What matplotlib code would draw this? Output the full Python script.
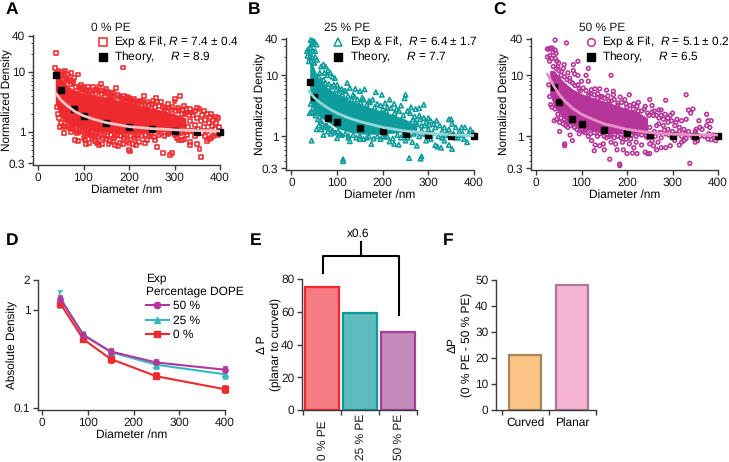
import matplotlib
matplotlib.use('Agg')
import matplotlib.pyplot as plt
from matplotlib.lines import Line2D
from matplotlib.ticker import FixedLocator, NullFormatter, NullLocator

plt.rcParams['font.family'] = ['Liberation Sans', 'DejaVu Sans']
plt.rcParams['font.size'] = 8.6
plt.rcParams['text.hinting'] = 'no_hinting'
plt.rcParams['mathtext.fontset'] = 'custom'
plt.rcParams['mathtext.it'] = 'Liberation Sans:italic'
plt.rcParams['mathtext.rm'] = 'Liberation Sans'
plt.rcParams['axes.linewidth'] = 1.0
plt.rcParams['axes.edgecolor'] = '#3a3a3a'

W, H = 729, 462

# ---- data ----
theory_x = [40, 50, 80, 100, 150, 200, 250, 300, 350, 400]
theory_a = [8.9, 5.0, 2.4, 1.85, 1.4, 1.2, 1.1, 1.05, 1.0, 1.0]
theory_b = [7.7, 4.4, 2.0, 1.7, 1.35, 1.2, 1.1, 1.04, 1.03, 1.0]
theory_c = [6.5, 3.7, 1.9, 1.6, 1.25, 1.15, 1.05, 1.02, 1.02, 1.0]

fit_a_x = [40, 50, 60, 80, 100, 125, 150, 200, 250, 300, 350, 400]
fit_a_y = [4.3, 3.4, 2.9, 2.2, 1.85, 1.6, 1.42, 1.22, 1.13, 1.08, 1.05, 1.03]
fit_b_x = [38, 50, 60, 80, 100, 125, 150, 200, 250, 300, 350, 400]
fit_b_y = [5.5, 4.3, 3.7, 2.9, 2.4, 2.0, 1.75, 1.4, 1.22, 1.12, 1.06, 1.03]
fit_c_x = [25, 30, 40, 50, 60, 80, 100, 125, 150, 200, 250, 300, 350, 400]
fit_c_y = [10.5, 9, 6.5, 5, 4, 2.9, 2.3, 1.9, 1.6, 1.3, 1.15, 1.08, 1.06, 1.05]

# the scatter is too dense to read one by one in the middle, so the solid
# core of each cloud is an envelope and the points around it are read singly
core_a_x = [38, 45, 55, 70, 90, 110, 130, 150, 180, 210, 240, 270, 300, 325]
core_a_hi = [9, 8.5, 7, 5.5, 4.6, 4.2, 4.0, 3.8, 3.3, 3.0, 2.6, 2.3, 2.0, 1.7]
core_a_lo = [3, 2.2, 1.5, 1.3, 1.15, 1.05, 1.0, 0.98, 0.95, 0.95, 0.98, 1.0, 1.05, 1.15]
core_b_x = [40, 45, 50, 60, 80, 100, 130, 160, 190, 220, 250, 275]
core_b_hi = [18, 16, 13, 8.5, 6.2, 5.0, 3.9, 3.2, 2.7, 2.3, 1.9, 1.5]
core_b_lo = [4, 3.2, 2.6, 2.1, 1.7, 1.35, 1.15, 1.08, 1.08, 1.12, 1.2, 1.3]
core_c_x = [30, 40, 60, 80, 100, 130, 160, 190, 220, 245]
core_c_hi = [12, 12, 8, 6, 5, 4.2, 3.6, 3.0, 2.6, 2.0]
core_c_lo = [5, 3, 2, 1.6, 1.35, 1.2, 1.1, 1.1, 1.1, 1.2]

points_a = [
    (39, 20.8), (37, 11.6), (187, 11.8), (45, 10.5), (50, 9), (55, 10), (60, 10.5), (65, 9), (72, 9.5), (80, 8),
    (88, 9), (95, 6), (100, 5.5), (105, 4.8), (110, 5.5), (120, 5.5), (130, 5), (135, 5.5), (138, 6.2), (145, 4.8),
    (150, 5.2), (155, 4), (165, 4.5), (172, 5.3), (180, 3.8), (190, 3.5), (195, 3.8), (205, 3.4), (215, 3.2), (233, 3.9),
    (260, 3.6), (262, 3.2), (270, 3.1), (285, 2.9), (300, 3.2), (302, 3.5), (312, 3.9), (320, 2.7), (335, 2.4), (350, 2.5),
    (355, 2.4), (365, 2.2), (372, 2.0), (380, 2.0), (392, 1.75), (398, 1.2), (48, 1.2), (58, 0.94), (72, 1.0), (75, 1.1),
    (85, 0.95), (82, 0.72), (87, 0.7), (100, 0.8), (103, 0.72), (105, 0.63), (112, 0.65), (118, 0.8), (125, 0.7), (130, 0.66),
    (135, 0.6), (140, 0.62), (150, 0.75), (155, 0.62), (158, 0.7), (165, 0.68), (170, 0.6), (175, 0.58), (180, 0.65), (187, 0.62),
    (195, 0.7), (200, 0.5), (203, 0.47), (199, 0.66), (208, 0.62), (215, 0.6), (222, 0.68), (235, 0.65), (240, 0.72), (258, 0.73),
    (262, 0.55), (274, 0.44), (290, 0.41), (295, 0.44), (305, 0.8), (310, 0.74), (317, 0.74), (322, 0.75), (335, 0.6), (335, 0.68),
    (350, 0.63), (355, 0.52), (358, 0.38), (372, 0.7), (375, 0.75), (380, 0.8), (385, 0.85), (390, 0.95), (395, 0.9), (92, 1.1),
    (110, 0.95), (125, 0.9), (145, 0.88), (170, 0.85), (190, 0.88), (215, 0.85), (245, 0.85), (265, 0.9), (285, 0.92), (300, 0.9),
    (330, 1.2), (335, 1.5), (340, 1.9), (345, 1.3), (350, 1.7), (352, 1.1), (358, 1.5), (360, 1.9), (365, 1.2), (368, 1.6),
    (372, 1.05), (375, 1.4), (378, 1.75), (382, 1.25), (385, 1.6), (388, 1.1), (392, 1.4), (395, 1.7), (340, 1.05), (328, 2.1),
    (345, 2.2), (318, 2.3), (308, 2.5), (295, 2.6), (280, 2.5), (250, 2.9), (240, 3.1), (225, 3.3), (200, 3.6), (160, 4.4),
    (125, 4.9), (90, 5.6), (75, 7), (62, 8), (290, 1.0), (315, 0.95), (325, 1.0), (360, 0.95), (345, 0.85), (368, 0.85),
    (42, 9.5), (47, 8), (52, 8.7), (57, 7.6), (63, 7), (68, 7.4), (73, 6.2), (78, 6.6), (84, 5.6), (92, 5),
    (97, 5.2), (103, 4.4), (108, 5), (114, 4.6), (118, 4.3), (127, 4.4), (133, 4.7), (141, 4.3), (148, 4.4), (153, 4.6),
    (158, 3.9), (163, 4), (168, 3.8), (175, 4.1), (184, 3.5), (188, 3.9), (193, 3.3), (199, 3.2), (208, 3.3), (212, 3.5),
    (220, 3), (228, 3.1), (236, 2.9), (244, 2.8), (252, 3.3), (258, 2.6), (266, 2.7), (274, 2.6), (278, 2.3), (288, 2.5),
    (293, 2.3), (304, 2.2), (310, 2.3), (316, 2), (322, 2), (326, 2.4), (332, 1.9), (338, 2.1), (41, 2.6), (44, 2),
    (47, 1.7), (50, 1.4), (54, 1.25), (60, 1.2), (65, 1.25), (70, 1.15), (78, 1.15), (84, 1.05), (90, 1), (96, 1.02),
    (103, 0.95), (108, 0.88), (115, 0.92), (121, 0.85), (128, 0.95), (133, 0.82), (138, 0.9), (143, 0.8), (152, 0.85), (160, 0.88),
    (168, 0.78), (174, 0.9), (183, 0.85), (189, 0.78), (194, 0.9), (205, 0.85), (212, 0.78), (220, 0.9), (228, 0.85), (236, 0.9),
    (248, 0.92), (255, 0.82), (270, 0.95), (278, 0.85), (288, 0.95), (296, 1), (308, 0.95), (318, 1.05), (328, 0.9), (334, 1.05),
]

points_b = [
    (42, 38), (46, 37), (50, 36), (44, 33), (48, 33), (55, 32), (42, 28), (37, 27), (34, 25), (40, 24),
    (46, 26), (52, 25), (35, 21), (40, 20), (45, 20), (52, 20), (38, 17), (44, 17), (50, 16), (56, 18),
    (65, 14), (70, 15), (75, 14), (80, 12), (85, 11), (90, 9.5), (95, 9), (62, 11), (72, 11), (78, 10),
    (100, 7), (110, 6), (122, 7.5), (128, 6.2), (140, 6), (150, 5.5), (160, 5.9), (178, 4), (185, 5.3), (198, 4.8),
    (205, 3.5), (215, 4), (225, 3.4), (250, 4.8), (248, 4.2), (240, 3.2), (262, 3), (272, 2.8), (280, 2.9), (290, 3.3),
    (300, 2), (290, 2), (280, 2.2), (260, 2.4), (270, 2.1), (305, 1.8), (318, 1.8), (325, 1.5), (335, 1.4), (345, 1.9),
    (350, 1.9), (352, 1.6), (360, 1.4), (368, 1.2), (373, 1.4), (380, 1.4), (392, 1.3), (398, 1.15), (40, 2.4), (45, 2.5),
    (50, 2.4), (55, 1.3), (60, 1.5), (68, 1.6), (70, 1.05), (65, 1.3), (75, 1.5), (80, 1.2), (86, 1.1), (44, 0.85),
    (100, 0.93), (107, 1.1), (113, 0.42), (113, 0.39), (125, 0.95), (128, 0.83), (150, 0.9), (165, 0.95), (175, 0.75), (195, 0.9),
    (205, 0.98), (215, 0.82), (225, 0.75), (235, 0.73), (258, 0.44), (250, 0.85), (265, 0.8), (275, 0.7), (285, 0.47), (283, 0.43),
    (295, 0.85), (305, 0.9), (315, 0.72), (320, 0.68), (328, 0.65), (335, 0.85), (345, 0.72), (352, 0.62), (360, 0.95), (378, 0.9),
    (385, 0.8), (290, 1.1), (310, 1.15), (322, 1.0), (338, 1.05), (355, 1.1), (365, 0.95), (375, 1.1), (280, 1.0), (268, 1.1),
    (255, 0.95), (240, 0.95), (300, 1.3), (315, 1.4), (330, 1.2), (345, 1.3), (260, 1.6), (275, 1.6), (285, 1.5), (295, 1.7),
    (230, 2.8), (210, 3), (195, 3.2), (170, 3.8), (155, 4.3), (135, 4.8), (115, 5.5), (105, 5.9),
    (55, 9), (60, 9.5), (65, 8), (70, 8.5), (75, 7.5), (82, 7.2), (88, 6.5), (93, 7), (98, 5.8), (104, 5),
    (112, 4.8), (118, 5.6), (124, 4.6), (132, 4), (138, 4.5), (145, 4), (152, 3.6), (158, 4), (165, 3.3), (172, 3.6),
    (182, 3), (188, 3.4), (200, 2.8), (208, 2.6), (218, 2.9), (226, 2.4), (236, 2.6), (245, 2.2), (254, 2.6), (266, 1.9),
    (272, 1.7), (282, 1.9), (292, 1.5), (302, 1.55), (312, 1.6), (42, 3.4), (47, 2.9), (53, 2.2), (58, 1.9), (64, 1.8),
    (72, 1.4), (78, 1.5), (85, 1.35), (90, 1.25), (96, 1.15), (102, 1.2), (110, 1.05), (118, 1.1), (125, 1.02), (135, 1.05),
    (142, 0.95), (150, 1.02), (158, 0.9), (170, 1), (180, 0.92), (188, 1), (200, 1), (210, 1), (222, 0.92), (232, 1.05),
    (245, 1.08), (258, 1.05), (272, 1.2), (285, 1.25), (298, 1.05), (305, 1.02), (330, 0.95), (340, 1.15), (370, 1.05), (388, 1.1),
]

points_c = [
    (42, 38), (67, 34), (25, 27), (28, 27), (32, 28), (36, 28), (42, 26), (38, 24), (44, 23), (25, 20),
    (30, 21), (35, 19), (42, 19), (30, 17), (46, 17), (50, 16), (48, 14), (62, 15), (82, 15), (92, 17),
    (115, 13), (82, 12), (60, 13), (70, 11), (85, 10.5), (92, 10), (110, 10), (165, 10), (100, 8), (115, 8),
    (55, 10), (75, 8), (130, 6), (140, 6), (155, 5.7), (170, 5.5), (170, 4.8), (185, 4.4), (195, 4), (205, 4.8),
    (145, 4.5), (225, 3.6), (240, 3.1), (250, 4), (285, 3.9), (330, 4.8), (335, 2.7), (345, 2.8), (340, 2.4), (300, 2.4),
    (270, 2.7), (275, 2.7), (255, 3.2), (215, 3.4), (260, 2.6), (295, 2.2), (310, 1.9), (320, 1.8), (330, 1.9), (375, 2.3),
    (378, 1.8), (385, 1.8), (358, 1.8), (375, 1.5), (382, 1.4), (365, 1.3), (350, 1.2), (340, 1.05), (352, 1.3), (390, 1.05),
    (395, 0.85), (385, 0.88), (378, 0.9), (355, 0.85), (350, 0.8), (345, 0.95), (338, 0.36), (330, 0.92), (325, 0.85), (320, 0.8),
    (315, 0.72), (305, 0.85), (300, 1.2), (290, 1.3), (280, 1.5), (270, 1.6), (285, 1.1), (275, 0.95), (268, 0.8), (258, 0.7),
    (250, 0.75), (245, 0.95), (240, 0.55), (232, 0.72), (220, 0.8), (255, 0.85), (295, 0.7), (285, 0.65), (275, 0.65), (265, 0.6),
    (250, 0.52), (245, 0.52), (222, 0.52), (212, 0.53), (200, 0.52), (192, 0.6), (184, 0.35), (184, 0.33), (178, 0.6), (162, 0.42),
    (150, 0.6), (140, 0.7), (128, 0.58), (130, 0.72), (148, 0.75), (165, 0.8), (175, 0.75), (190, 0.8), (205, 0.75), (215, 0.65),
    (122, 0.85), (115, 1.0), (108, 1.15), (95, 1.1), (80, 0.85), (75, 1.05), (63, 0.7), (63, 0.75), (52, 1.2), (70, 1.4),
    (40, 1.8), (45, 1.9), (52, 1.7), (60, 1.6), (65, 1.5), (72, 1.7), (85, 1.4), (100, 1.3), (32, 3.3), (30, 4.5),
    (28, 7), (35, 3), (95, 6), (120, 5), (135, 4.2), (160, 3.8), (180, 3.5), (200, 3), (225, 2.6), (245, 2.4),
    (258, 2.2), (270, 2), (280, 1.9), (265, 1.5), (250, 1.4), (260, 1.2), (240, 1.2), (225, 1.1), (210, 1.05), (195, 1.0),
    (180, 1.0), (165, 1.05), (150, 1.0), (135, 1.0), (290, 1.7), (305, 1.5), (315, 1.4), (325, 1.3), (335, 1.2), (310, 1.1),
    (320, 1.0), (300, 0.95), (360, 1.0), (370, 1.0), (380, 1.1), (360, 1.4),
    (38, 14), (44, 13), (50, 12), (56, 11.5), (62, 9.5), (68, 8.5), (74, 9), (80, 7.5), (86, 6.8), (92, 7),
    (98, 5.6), (104, 6.2), (110, 5.6), (116, 4.8), (122, 5.8), (128, 4.8), (136, 5), (142, 4.4), (150, 4.2), (158, 4.6),
    (165, 3.8), (172, 4), (180, 3.2), (188, 3.6), (198, 3.4), (206, 3.2), (214, 2.8), (222, 3.1), (232, 2.6), (238, 2.8),
    (248, 2.2), (255, 2.5), (265, 2.2), (275, 2.2), (284, 2.3), (290, 2), (298, 1.8), (308, 1.7), (42, 2.8), (48, 2.3),
    (55, 2), (62, 1.9), (68, 1.8), (76, 1.5), (82, 1.6), (90, 1.3), (96, 1.4), (104, 1.2), (112, 1.3), (120, 1.1),
    (128, 1.15), (140, 1.1), (146, 1.15), (155, 0.95), (162, 1), (172, 0.95), (186, 0.95), (198, 0.9), (208, 0.9), (220, 1),
    (232, 1.05), (242, 1), (252, 1.05), (262, 1), (272, 1.15), (282, 1.25), (292, 1.05), (302, 1.05), (315, 1.2), (328, 1.1),
]

d_x = [40, 90, 150, 250, 400]
d_50 = [1.28, 0.55, 0.375, 0.29, 0.245]
d_25 = [1.30, 0.56, 0.37, 0.275, 0.22]
d_0 = [1.15, 0.50, 0.315, 0.21, 0.155]
d_50_err = [0.10, 0.03, 0.02, 0.02, 0.015]
d_25_err = [0.25, 0.03, 0.02, 0.025, 0.025]
d_0_err = [0.07, 0.03, 0.03, 0.015, 0.014]

e_labels = ['0 % PE', '25 % PE', '50 % PE']
e_vals = [75, 59, 47.5]
f_labels = ['Curved', 'Planar']
f_vals = [21, 48]

RED, TEAL, MAG = '#ee2a2e', '#0f9c9c', '#b6359b'
CYAN = '#32bcc0'


def axes_px(fig, left, top, right, bottom):
    return fig.add_axes([left / W, 1 - bottom / H, (right - left) / W, (bottom - top) / H])


def clean(ax):
    ax.spines['top'].set_visible(False)
    ax.spines['right'].set_visible(False)
    ax.tick_params(length=3.5, width=1, pad=2, color='#3a3a3a', labelcolor='#1a1a1a')


def label_px(ax, x):
    # right edge of the rotated y label, in pixels
    pos = ax.get_position()
    ax.yaxis.set_label_coords((x - pos.x0 * W) / (pos.width * W), 0.5)


def scatter_panel(ax, pts, core, fit, theory, color, fitcolor, marker, size, ylab_x, title, rtxt, rtxt2, leg_xy):
    clean(ax)
    ax.set_yscale('log')
    ax.fill_between(core[0], core[2], core[1], color=color, lw=0, zorder=1)
    px, py = zip(*pts)
    ax.scatter(px, py, marker=marker, s=size, facecolors='none', edgecolors=color, linewidths=1.15, clip_on=False, zorder=2)
    ax.plot(theory[0], theory[1], 's', color='black', ms=4.8, clip_on=False, zorder=3)
    ax.plot(fit[0], fit[1], color=fitcolor, lw=2, zorder=4, solid_capstyle='round')
    ax.yaxis.set_major_locator(FixedLocator([0.3, 1, 10, 40]))
    ax.set_yticklabels(['0.3', '1', '10', '40'])
    ax.yaxis.set_minor_locator(FixedLocator([0.4, 0.5, 0.6, 0.7, 0.8, 0.9, 2, 3, 4, 5, 6, 7, 8, 9, 20, 30]))
    ax.yaxis.set_minor_formatter(NullFormatter())
    ax.tick_params(which='minor', length=1.8, width=0.7, color='#3a3a3a')
    ax.set_xticks([0, 100, 200, 300, 400])
    ax.set_xlabel('Diameter /nm', fontsize=8.6, labelpad=0.5)
    ax.set_ylabel('Normalized Density', fontsize=8.5)
    label_px(ax, ylab_x)
    handles = [
        Line2D([], [], marker=marker, ls='none', ms=5.5, mfc='none', mec=color, mew=1.1),
        Line2D([], [], marker='s', ls='none', ms=5.5, color='black'),
    ]
    leg = ax.legend(handles, [rtxt, rtxt2], frameon=False, loc='upper left', fontsize=8.6, handletextpad=0.2,
                    labelspacing=0.0, borderpad=0, borderaxespad=0, handlelength=1.6,
                    bbox_to_anchor=(leg_xy[0] / W, 1 - leg_xy[1] / H), bbox_transform=ax.figure.transFigure)
    leg.set_zorder(5)
    ax.figure.text(title[0] / W, 1 - title[1] / H, title[2], fontsize=8.6, va='center', color='#1a1a1a')


fig = plt.figure(figsize=(W / 100, H / 100), dpi=100)

# A
ax = axes_px(fig, 33, 35, 220, 165)
ax.set_xlim(-11, 400)
ax.set_ylim(0.28, 41)
scatter_panel(ax, points_a, (core_a_x, core_a_hi, core_a_lo), (fit_a_x, fit_a_y), (theory_x, theory_a), RED, '#f8c4c4', 's', 8,
              13, (91, 28, '0 % PE'), r'Exp & Fit, $R$ = 7.4 ± 0.4', r'Theory,     $R$ = 8.9', (93, 35))

# B
ax = axes_px(fig, 286, 38, 474, 170)
ax.set_xlim(-12, 400)
ax.set_ylim(0.28, 41)
scatter_panel(ax, points_b, (core_b_x, core_b_hi, core_b_lo), (fit_b_x, fit_b_y), (theory_x, theory_b), TEAL, '#93d8d8', '^', 10,
              266, (324, 28, '25 % PE'), r'Exp & Fit,  $R$ = 6.4 ± 1.7', r'Theory,     $R$ = 7.7', (328, 35))

# C
ax = axes_px(fig, 531, 38, 718, 170)
ax.set_xlim(-11, 400)
ax.set_ylim(0.28, 41)
scatter_panel(ax, points_c, (core_c_x, core_c_hi, core_c_lo), (fit_c_x, fit_c_y), (theory_x, theory_c), MAG, '#e88fc6', 'o', 7,
              510, (579, 28, '50 % PE'), r'Exp & Fit,  $R$ = 5.1 ± 0.2', r'Theory,     $R$ = 6.5', (581, 35))

# D
ax = axes_px(fig, 38, 280, 225, 410)
clean(ax)
ax.set_yscale('log')
ax.set_xlim(-9, 400)
ax.set_ylim(0.0954, 2)
for vals, errs, c, m in [(d_0, d_0_err, RED, 's'), (d_25, d_25_err, CYAN, '^'), (d_50, d_50_err, MAG, 'o')]:
    ax.errorbar(d_x, vals, yerr=errs, color=c, marker=m, ms=3.8, lw=1.5, elinewidth=1.2, capsize=1.8, capthick=1.2, clip_on=False)
ax.yaxis.set_major_locator(FixedLocator([0.1, 1, 2]))
ax.set_yticklabels(['0.1', '1', '2'])
ax.yaxis.set_minor_locator(NullLocator())
ax.set_xticks([0, 100, 200, 300, 400])
ax.set_xlabel('Diameter /nm', fontsize=8.6, labelpad=0.5)
ax.set_ylabel('Absolute Density', fontsize=8.5)
label_px(ax, 18)
d_handles = [Line2D([], [], color=c, marker=m, ms=4.5, lw=1.5) for c, m in [(MAG, 'o'), (CYAN, '^'), (RED, 's')]]
ax.legend(d_handles, ['50 %', '25 %', '0 %'], title='Exp\nPercentage DOPE', title_fontsize=8.6, alignment='left',
          frameon=False, fontsize=8.6, loc='upper left', bbox_to_anchor=(146 / W, 1 - 273 / H), bbox_transform=fig.transFigure,
          borderpad=0, borderaxespad=0, labelspacing=0.28, handlelength=1.9, handletextpad=0.4)

# E
ax = axes_px(fig, 302, 279, 417, 410)
clean(ax)
ax.set_xlim(-0.53, 2.5)
ax.set_ylim(0, 80)
ax.bar([0, 1, 2], e_vals, width=0.88, color=['#f47c82', '#5cbcc0', '#c58abc'], edgecolor=[RED, '#129a9a', '#a5409a'], linewidth=1.6)
ax.set_xticks([-0.5, 0.5, 1.5, 2.5])
ax.set_xticklabels([])
for i, lab in enumerate(e_labels):
    ax.text(i + 0.03, -0.385, lab, rotation=90, ha='center', va='bottom', transform=ax.get_xaxis_transform(), color='#1a1a1a')
ax.set_yticks([0, 20, 40, 60, 80])
ax.set_ylabel('Δ P\n(planar to curved)', fontsize=8.6, linespacing=1.4)
label_px(ax, 282)
fig.text(358 / W, 1 - 234 / H, 'x0.6', ha='center', va='center', fontsize=8.6)
for xs, ys in [([323, 323, 399, 399], [273, 256, 256, 315]), ([361, 361], [256, 242])]:
    fig.add_artist(Line2D([v / W for v in xs], [1 - v / H for v in ys], color='black', lw=1.5))

# F
ax = axes_px(fig, 496, 280, 596, 410)
clean(ax)
ax.set_xlim(-0.62, 1.5)
ax.set_ylim(0, 50)
ax.bar([0, 1], f_vals, width=0.68, color=['#fcc585', '#f5b5d2'], edgecolor=['#a98657', '#a87a96'], linewidth=1.6)
ax.set_xticks([-0.5, 0.5, 1.5])
ax.set_xticklabels([])
ax.set_xticks([0, 1], labels=f_labels, minor=True)
ax.tick_params(axis='x', which='minor', length=0, pad=5)
ax.set_yticks([0, 10, 20, 30, 40, 50])
ax.set_ylabel('ΔP\n(0 % PE - 50 % PE)', fontsize=8.6, linespacing=1.4)
label_px(ax, 473)

for letter, x, y in [('A', 6, 10), ('B', 248, 10), ('C', 493, 10), ('D', 6, 241), ('E', 250, 241), ('F', 443, 241)]:
    fig.text(x / W, 1 - y / H, letter, fontsize=12.5, fontweight='bold', va='center')

fig.savefig('out.png', dpi=100)
